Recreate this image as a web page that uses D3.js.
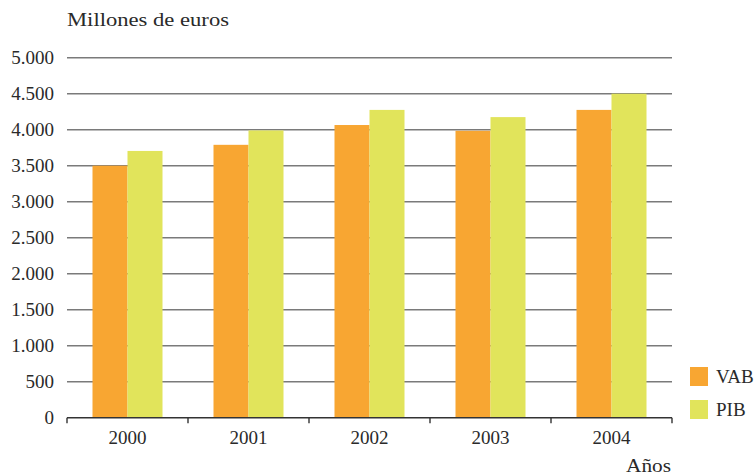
<!DOCTYPE html>
<html><head><meta charset="utf-8">
<script src="https://cdn.jsdelivr.net/npm/d3@7/dist/d3.min.js"></script>
<style>body{margin:0;background:#fff}svg{display:block}text{font-family:"Liberation Serif","DejaVu Serif",serif;fill:#2a2a2a}</style>
</head><body>
<script>
const years = ["2000","2001","2002","2003","2004"];
const seriesNames = ["VAB","PIB"];
const vab = [3500, 3790, 4065, 3985, 4275];
const pib = [3705, 3990, 4275, 4175, 4500];
const yTicks = [0,500,1000,1500,2000,2500,3000,3500,4000,4500,5000];
const colors = ["#F8A632","#E1E45B"];

const W=755,H=475;
const svg=d3.select("body").append("svg").attr("width",W).attr("height",H);
const x0=d3.scaleBand().domain(years).range([67,672]).paddingInner(0.4215).paddingOuter(0.21075);
const x1=d3.scaleBand().domain(seriesNames).range([0,x0.bandwidth()]);
const y=d3.scaleLinear().domain([0,5000]).range([417.7,57.7]);
const fmt=v=>v===0?"0":d3.format(",")(v).replace(/,/g,".");
const FS="19px";

// gridlines
svg.append("g").selectAll("line").data(yTicks.filter(d=>d>0)).join("line")
 .attr("x1",67).attr("x2",672).attr("y1",d=>y(d)).attr("y2",d=>y(d))
 .attr("stroke","#7a7a7a").attr("stroke-width",1.6);

// y labels
svg.append("g").selectAll("text").data(yTicks).join("text")
 .attr("x",54).attr("y",d=>y(d)).attr("dy","0.35em").attr("text-anchor","end")
 .style("font-size",FS).text(fmt);

// bars
const data=years.map((yr,i)=>({yr,vals:[vab[i],pib[i]]}));
const g=svg.append("g").selectAll("g").data(data).join("g").attr("transform",d=>`translate(${x0(d.yr)},0)`);
g.selectAll("rect").data(d=>d.vals.map((v,j)=>({k:seriesNames[j],v,j}))).join("rect")
 .attr("x",d=>x1(d.k)).attr("width",x1.bandwidth())
 .attr("y",d=>y(d.v)).attr("height",d=>y(0)-y(d.v)).attr("fill",d=>colors[d.j]);

// x axis
svg.append("line").attr("x1",67).attr("x2",672).attr("y1",y(0)).attr("y2",y(0)).attr("stroke","#333").attr("stroke-width",1.6);
const step=x0.step();
const bounds=d3.range(years.length+1).map(i=>67+i*step);
svg.append("g").selectAll("line").data(bounds).join("line")
 .attr("x1",d=>d).attr("x2",d=>d).attr("y1",y(0)).attr("y2",y(0)+5.5).attr("stroke","#333").attr("stroke-width",1.4);
svg.append("g").selectAll("text").data(years).join("text")
 .attr("x",d=>x0(d)+x0.bandwidth()/2).attr("y",437).attr("dy","0.35em").attr("text-anchor","middle")
 .style("font-size",FS).text(d=>d);

// titles
svg.append("text").attr("x",67).attr("y",26).style("font-size",FS)
 .attr("textLength",162).attr("lengthAdjust","spacingAndGlyphs").text("Millones de euros");
svg.append("text").attr("x",626).attr("y",472).style("font-size",FS)
 .attr("textLength",45).attr("lengthAdjust","spacingAndGlyphs").text("Años");

// legend
const lg=svg.append("g").selectAll("g").data(seriesNames).join("g").attr("transform",(d,i)=>`translate(690,${367+i*33})`);
lg.append("rect").attr("width",18).attr("height",19).attr("fill",(d,i)=>colors[i]);
lg.append("text").attr("x",26).attr("y",9.5).attr("dy","0.35em").style("font-size",FS).text(d=>d);
</script>
</body></html>
